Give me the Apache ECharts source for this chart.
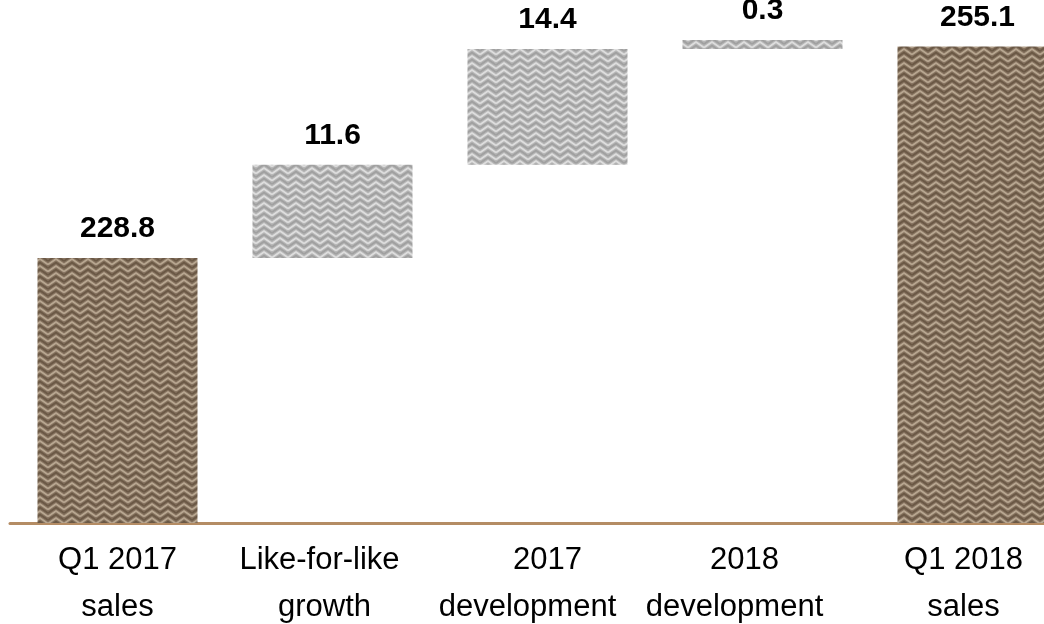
<!DOCTYPE html>
<html>
<head>
<meta charset="utf-8">
<script src="https://cdn.jsdelivr.net/npm/echarts@6/dist/echarts.min.js"></script>
<style>
  html, body { margin: 0; padding: 0; background: #ffffff; }
  #chart { width: 1044px; height: 624px; }
</style>
</head>
<body>
<div id="chart"></div>
<script>
// ---- data ----
const categories = ['Q1 2017\nsales', 'Like-for-like\ngrowth', '2017\ndevelopment', '2018\ndevelopment', 'Q1 2018\nsales'];
const barValues = [228.8, 11.6, 14.4, 0.3, 255.1];
const isTotal = [true, false, false, false, true];

// ---- layout: horizontal shift (px) of each label line relative to its bar ----
const labelShift = [[0, 0], [-13, -8], [0, -20], [-18, -28], [-14, -14]];

// ---- waterfall helper (invisible base) derived from values ----
const baseValues = [];
let running = 0;
for (let i = 0; i < barValues.length; i++) {
  if (isTotal[i]) { baseValues.push(0); running = barValues[i]; }
  else { baseValues.push(running); running += barValues[i]; }
}

// ---- chevron patterns ----
function makePattern(base, light, dark) {
  const w = 16, h = 7, amp = 5.5;
  const c = document.createElement('canvas');
  c.width = w; c.height = h;
  const g = c.getContext('2d');
  g.fillStyle = base; g.fillRect(0, 0, w, h);
  g.lineJoin = 'miter';
  for (const dy of [-2 * h, -h, 0, h, 2 * h]) {
    g.strokeStyle = dark; g.lineWidth = 1.8;
    g.beginPath(); g.moveTo(0, 3.5 + amp + dy); g.lineTo(w / 2, 3.5 + dy); g.lineTo(w, 3.5 + amp + dy); g.stroke();
    g.strokeStyle = light; g.lineWidth = 1.8;
    g.beginPath(); g.moveTo(0, amp + dy); g.lineTo(w / 2, dy); g.lineTo(w, amp + dy); g.stroke();
  }
  return c;
}
const brownPattern = { image: makePattern('#85725f', '#b8a791', '#6a5845'), repeat: 'repeat' };
const greyPattern = { image: makePattern('#b6b6b6', '#dedede', '#a0a0a0'), repeat: 'repeat' };

// rich styles for shifted label lines
const labelFont = { fontSize: 31, lineHeight: 47, color: '#000000', fontFamily: 'Liberation Sans, Arial, sans-serif' };
const rich = {};
labelShift.forEach((arr, i) => arr.forEach((d, j) => {
  rich['s' + i + '_' + j] = Object.assign({}, labelFont, d < 0 ? { padding: [0, -2 * d, 0, 0] } : d > 0 ? { padding: [0, 0, 0, 2 * d] } : {});
}));

const chart = echarts.init(document.getElementById('chart'), null, { renderer: 'canvas' });
chart.setOption({
  animation: false,
  backgroundColor: '#ffffff',
  grid: { left: 10, right: -41, top: 0, bottom: 101, containLabel: false, outerBoundsMode: 'none' },
  xAxis: {
    type: 'category',
    data: categories,
    axisLine: { show: true, onZero: false, lineStyle: { color: '#b48c64', width: 3 } },
    axisTick: { show: false },
    axisLabel: Object.assign({
      interval: 0,
      margin: 14,
      formatter: (val, idx) => val.split('\n').map((l, j) => '{s' + idx + '_' + j + '|' + l + '}').join('\n'),
      rich: rich
    }, labelFont)
  },
  yAxis: {
    type: 'value',
    min: 195.8,
    max: 260.9,
    show: false,
    splitLine: { show: false }
  },
  series: [
    {
      type: 'bar',
      stack: 'wf',
      data: baseValues,
      barWidth: 160,
      itemStyle: { color: 'transparent' },
      emphasis: { disabled: true },
      silent: true
    },
    {
      type: 'bar',
      stack: 'wf',
      barWidth: 160,
      barMinHeight: 9,
      data: barValues.map((v, i) => ({
        value: v,
        itemStyle: { color: isTotal[i] ? brownPattern : greyPattern }
      })),
      label: {
        show: true,
        position: 'top',
        distance: 14,
        color: '#000000',
        fontSize: 30,
        fontWeight: 'bold',
        fontFamily: 'Liberation Sans, Arial, sans-serif',
        formatter: p => p.value.toFixed(1)
      }
    }
  ]
});
</script>
</body>
</html>
